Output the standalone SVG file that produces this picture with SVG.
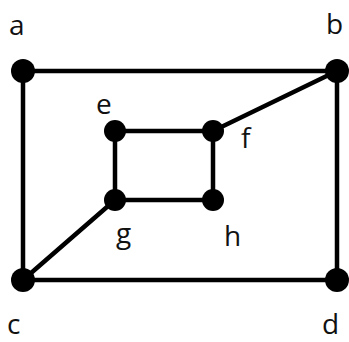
<svg xmlns="http://www.w3.org/2000/svg" width="349" height="342" viewBox="0 0 349 342">
<style>
.edge{stroke:#000;stroke-width:4.5;stroke-linecap:round}
.big{fill:#000}
.lbl{font-family:"Open Sans","Liberation Sans",sans-serif;font-size:28px;fill:#111}
</style>
<rect width="349" height="342" fill="#fff"/>
<g id="connectors">
<line class="edge" x1="23" y1="71" x2="337" y2="71"/>
<line class="edge" x1="23" y1="71" x2="23" y2="280"/>
<line class="edge" x1="337" y1="71" x2="337" y2="280"/>
<line class="edge" x1="23" y1="280" x2="337" y2="280"/>
<line class="edge" x1="337" y1="71" x2="213" y2="131"/>
<line class="edge" x1="115" y1="131" x2="213" y2="131"/>
<line class="edge" x1="115" y1="131" x2="115" y2="200"/>
<line class="edge" x1="213" y1="131" x2="213" y2="200"/>
<line class="edge" x1="115" y1="200" x2="213" y2="200"/>
<line class="edge" x1="23" y1="280" x2="115" y2="200"/>
</g>
<g id="a"><circle class="big" cx="23" cy="71" r="12"/><text class="lbl" x="9" y="35">a</text></g>
<g id="b"><circle class="big" cx="337" cy="71" r="12"/><text class="lbl" x="326" y="34">b</text></g>
<g id="c"><circle class="big" cx="23" cy="280" r="12"/><text class="lbl" x="7" y="334">c</text></g>
<g id="d"><circle class="big" cx="337" cy="280" r="12"/><text class="lbl" x="322" y="334">d</text></g>
<g id="e"><circle class="big" cx="115" cy="131" r="11"/><text class="lbl" x="96" y="114">e</text></g>
<g id="f"><circle class="big" cx="213" cy="131" r="11"/><text class="lbl" x="241" y="148">f</text></g>
<g id="g"><circle class="big" cx="115" cy="200" r="11"/><text class="lbl" x="116" y="243">g</text></g>
<g id="h"><circle class="big" cx="213" cy="200" r="11"/><text class="lbl" x="224" y="246">h</text></g>
</svg>
